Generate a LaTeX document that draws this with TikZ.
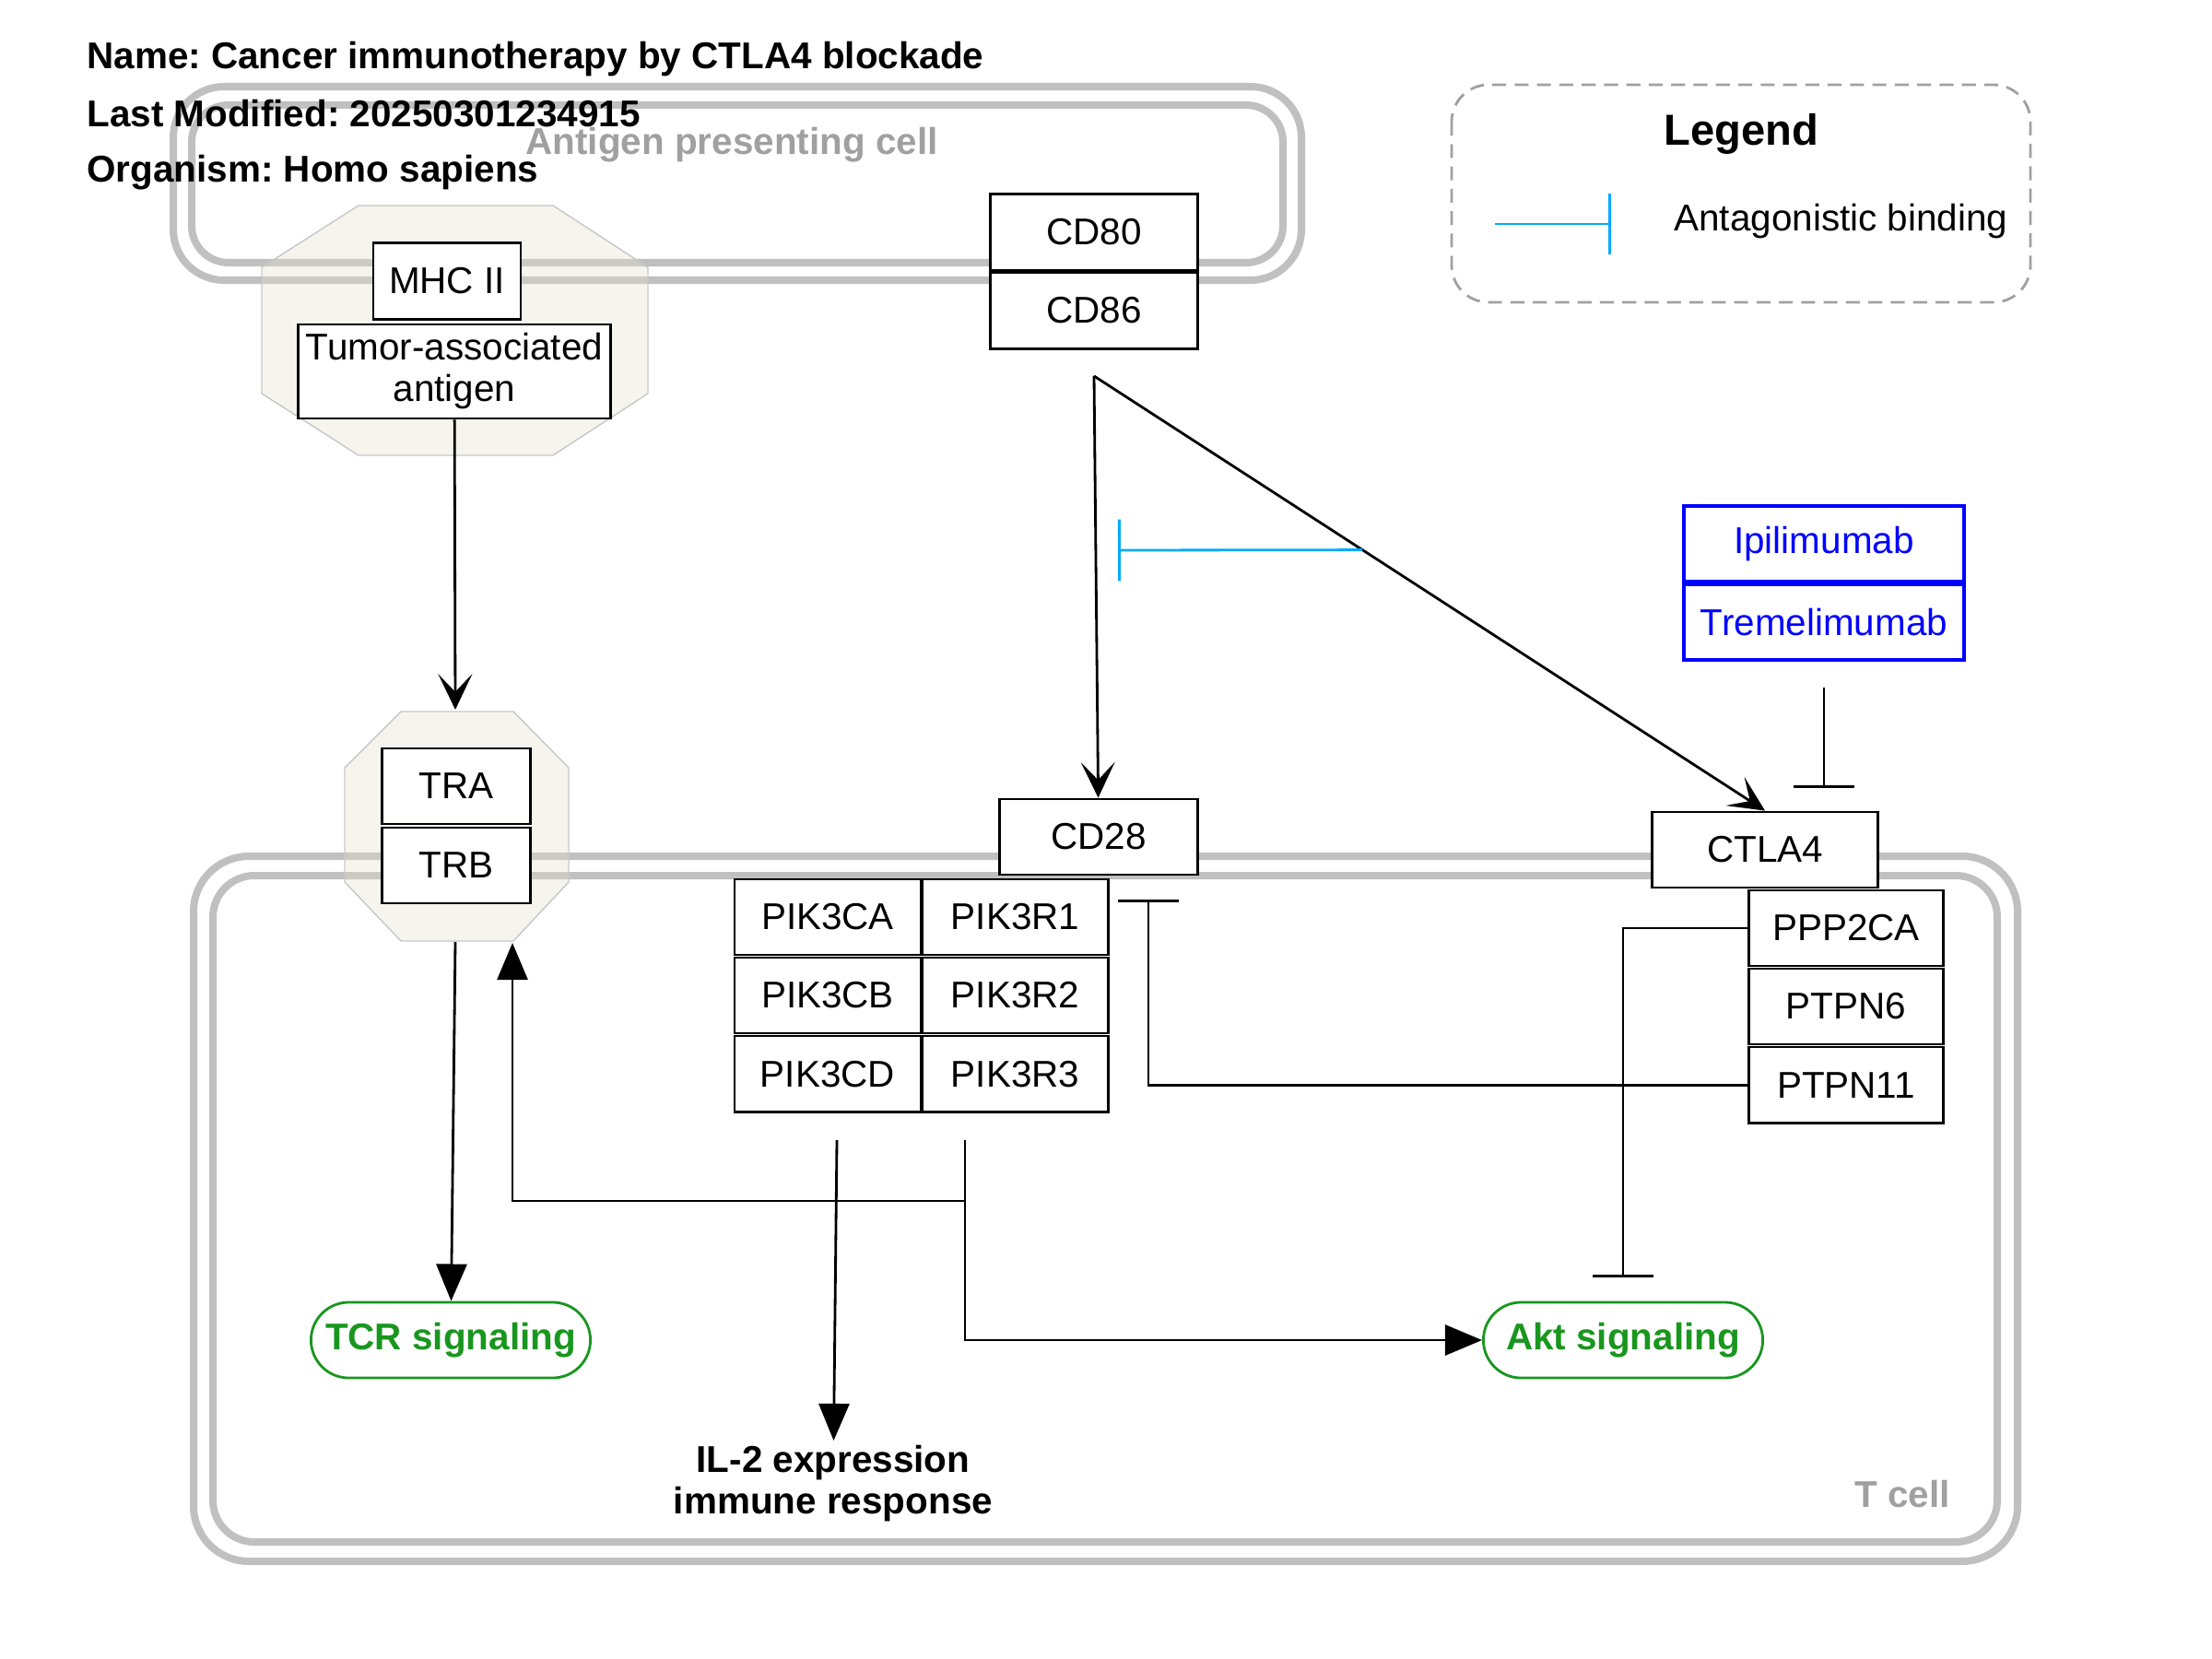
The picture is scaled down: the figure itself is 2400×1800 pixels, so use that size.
\documentclass[tikz,border=0pt]{standalone}
\usepackage{fontspec}
\setmainfont{Liberation Sans}
\usetikzlibrary{positioning,arrows.meta,calc}
\definecolor{membr}{RGB}{192,192,192}
\definecolor{lblgray}{RGB}{160,160,160}
\definecolor{cpxfill}{RGB}{225,225,205}
\definecolor{phenogreen}{RGB}{25,150,30}
\definecolor{antagblue}{RGB}{0,170,255}
\definecolor{drugblue}{RGB}{0,0,255}
\frenchspacing

\begin{document}
\begin{tikzpicture}[x=0.01cm, y=-0.01cm, node distance={0.85cm}, thick,
    font=\fontsize{11.5}{12.8}\selectfont,
    main/.style = {draw, rectangle, fill=white, inner sep=0pt, minimum height=0.82cm},
    drug/.style = {main, draw=drugblue, text=drugblue, line width=0.04cm, minimum width=3.03cm},
    pheno/.style = {draw=phenogreen, text=phenogreen, fill=white, font=\fontsize{11.5}{12.8}\selectfont\bfseries, rounded corners=0.41cm, minimum width=3.03cm, minimum height=0.82cm},
    membrane/.style = {draw=membr, line width=0.08cm},
    cplx/.style = {draw=black!22, thin, fill=cpxfill, fill opacity=0.35},
    celllabel/.style = {text=lblgray, font=\fontsize{11.5}{12.8}\selectfont\bfseries},
    title/.style = {anchor=west, inner sep=0pt, font=\fontsize{11.5}{12.8}\selectfont\bfseries},
    conv/.style = {-{Stealth[length=11pt, width=10.5pt, inset=5.5pt]}},
    stim/.style = {-{Triangle[length=11.4pt, width=9.4pt]}},
    inhib/.style = {-{Bar[width=19pt]}},
    antag/.style = {draw=antagblue, -{Bar[width=19pt]}}]
    \useasboundingbox (0,0) rectangle (2400,1800);

    % cells
    \draw[membrane, rounded corners=0.55cm] (188,94) rectangle (1412,304);
    \draw[membrane, rounded corners=0.4cm] (208,114) rectangle (1392,285);
    \draw[membrane, rounded corners=0.6cm] (210,929) rectangle (2189,1694);
    \draw[membrane, rounded corners=0.45cm] (231,950) rectangle (2167,1673);
    \node[celllabel] (apc) at (794,157) {Antigen presenting cell};
    \node[celllabel, anchor=east, inner sep=0pt] (tcell) at (2117,1621) {T cell};

    % complexes
    \draw[cplx] (389,223) -- (600,223) -- (703,290) -- (703,427) -- (600,494) -- (389,494) -- (284,427) -- (284,290) -- cycle;
    \draw[cplx] (435,772) -- (557,772) -- (617,833) -- (617,957) -- (557,1021) -- (435,1021) -- (374,957) -- (374,833) -- cycle;

    \node[title] (t1) at (93,64) {Name: Cancer immunotherapy by CTLA4 blockade};
    \node[title] (t2) at (93,123) {Last Modified: 20250301234915};
    \node[title] (t3) at (93,187) {Organism: Homo sapiens};

    \node[main, minimum width=1.6cm, minimum height=0.83cm] (1) at (485,305) {MHC II};
    \node[main, minimum width=3.38cm, minimum height=1.02cm, align=center] (2) at (493,403) {Tumor-associated\\antigen};
    \node[main, minimum width=2.25cm, minimum height=0.83cm] (3) at (1187,252) {CD80};
    \node[main, minimum width=2.25cm, minimum height=0.83cm] (4) [below of=3] {CD86};
    \node[main, minimum width=1.61cm] (5) at (495,853) {TRA};
    \node[main, minimum width=1.61cm] (6) [below of=5, node distance=0.86cm] {TRB};
    \node[main, minimum width=2.15cm] (7) at (1192,908) {CD28};
    \node[main, minimum width=2.02cm] (8) at (898,995) {PIK3CA};
    \node[main, minimum width=2.02cm] (9) [below of=8] {PIK3CB};
    \node[main, minimum width=2.02cm] (10) [below of=9] {PIK3CD};
    \node[main, minimum width=2.02cm] (11) [right of=8, node distance=2.035cm] {PIK3R1};
    \node[main, minimum width=2.02cm] (12) [below of=11] {PIK3R2};
    \node[main, minimum width=2.02cm] (13) [below of=12] {PIK3R3};
    \node[main, minimum width=2.45cm] (14) at (1915,922) {CTLA4};
    \node[main, minimum width=2.11cm] (15) at (2003,1007) {PPP2CA};
    \node[main, minimum width=2.11cm] (16) [below of=15] {PTPN6};
    \node[main, minimum width=2.11cm] (17) [below of=16] {PTPN11};
    \node[drug] (18) at (1979,590) {Ipilimumab};
    \node[drug] (19) [below of=18] {Tremelimumab};
    \node[pheno] (20) at (489,1454) {TCR signaling};
    \node[pheno] (21) at (1761,1454) {Akt signaling};
    \node[anchor=north, align=center, inner sep=1pt, font=\fontsize{11.5}{12.8}\selectfont\bfseries] (22) at (904,1563) {IL-2 expression\\immune response};

    \coordinate (src) at ($(4.south)+(0,28)$);
    \coordinate (trtop) at (494,770);
    \coordinate (trbot) at (494,1022);
    \coordinate (trdock) at (556,1023);
    \coordinate (p1) at (908,1237);
    \coordinate (p2) at (1047,1237);
    \coordinate (br) at (1047,1303);
    \coordinate (ab) at ($(src)!0.4!(14.north)$);
    \coordinate (abend) at (1213,597);

    \draw[conv] (2) -- (trtop);
    \draw[stim] (trbot) -- (20);
    \draw[conv] (src) -- (7);
    \draw[conv] (src) -- (14.north);
    \draw[antag] (ab) -- (abend);
    \draw[inhib, shorten <=0.28cm, shorten >=0.25cm] (19.south) -- (19.south |- 14.north);
    \draw[inhib, shorten >=0.26cm] (17.west) -| ($(7.south)+(54,0)$);
    \draw[inhib, shorten >=0.26cm] (15.west) -| (21.north);
    \draw[stim] (p1) -- (22);
    \draw[stim] (p2) -- (br) -| (trdock);
    \draw[stim] (p2) |- (21.west);

    % legend
    \draw[draw=lblgray, dash pattern=on 4.3pt off 2.6pt, rounded corners=0.4cm] (1575,92) rectangle (2203,328);
    \node[font=\fontsize{13.4}{15}\selectfont\bfseries] (23) at (1889,145) {Legend};
    \coordinate (l1) at (1622,243);
    \coordinate (l2) at (1748,243);
    \draw[antag] (l1) -- (l2);
    \node[anchor=west, inner sep=0pt] (24) at (1815,240) {Antagonistic binding};
\end{tikzpicture}
\end{document}
